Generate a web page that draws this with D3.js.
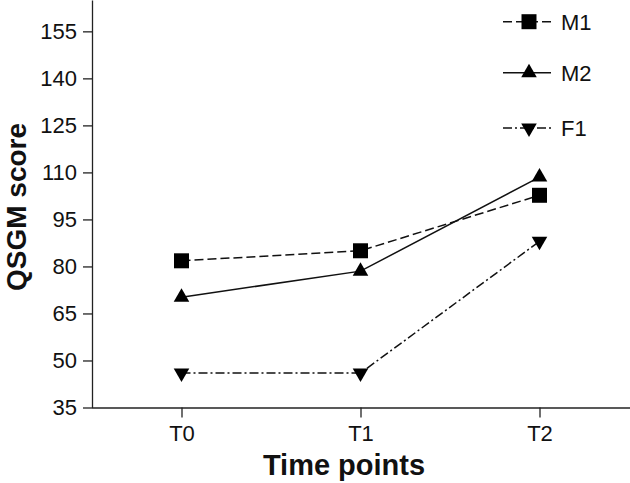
<!DOCTYPE html>
<html><head><meta charset="utf-8">
<script src="https://cdn.jsdelivr.net/npm/d3@7"></script>
<style>
html,body{margin:0;padding:0;background:#fff;}
svg{display:block;font-family:"Liberation Sans",Arial,Helvetica,sans-serif;}
</style></head>
<body>
<svg id="chart" width="630" height="483"></svg>
<script>
const timePoints = ["T0", "T1", "T2"];
const seriesNames = ["M1", "M2", "F1"];
const m1Values = [81.8, 85.0, 102.7];
const m2Values = [70.2, 78.5, 108.5];
const f1Values = [46.0, 46.0, 88.0];
const yTicks = [35, 50, 65, 80, 95, 110, 125, 140, 155];

const series = [
  {name: "M1", values: m1Values, dash: "9,4", symbol: "square"},
  {name: "M2", values: m2Values, dash: null, symbol: "up"},
  {name: "F1", values: f1Values, dash: "9,3,2,3", symbol: "down"}
];

const svg = d3.select("#chart");
const x = d3.scaleLinear().domain([-0.5, 2.5]).range([92, 629]);
const y = d3.scaleLinear().domain([35, 165]).range([407.5, 0]);

// Y axis
const yAxis = svg.append("g").attr("transform", "translate(92,0)")
  .call(d3.axisLeft(y).tickValues(yTicks).tickSize(9).tickPadding(6).tickSizeOuter(0));
yAxis.select(".domain").attr("stroke", "#222").attr("stroke-width", 1.3);
yAxis.selectAll(".tick line").attr("stroke", "#222").attr("stroke-width", 1.3);
yAxis.selectAll("text").attr("font-size", 22).attr("fill", "#111").attr("font-family", "Liberation Sans, Arial, sans-serif");

// X axis
const xAxis = svg.append("g").attr("transform", "translate(0,407.5)")
  .call(d3.axisBottom(x).tickValues([0, 1, 2]).tickFormat(i => timePoints[i]).tickSize(10).tickPadding(8).tickSizeOuter(0));
xAxis.select(".domain").attr("stroke", "#222").attr("stroke-width", 1.3).attr("d", "M92,0.5H630");
xAxis.selectAll(".tick line").attr("stroke", "#222").attr("stroke-width", 1.3);
xAxis.selectAll("text").attr("font-size", 22).attr("fill", "#111").attr("font-family", "Liberation Sans, Arial, sans-serif");

// Titles
svg.append("text").attr("x", 344).attr("y", 475).attr("text-anchor", "middle")
  .attr("font-size", 29).attr("font-weight", "bold").attr("fill", "#111").text("Time points");
svg.append("text").attr("transform", "translate(26,207) rotate(-90)").attr("text-anchor", "middle")
  .attr("font-size", 28).attr("font-weight", "bold").attr("fill", "#111").text("QSGM score");

function symbolPath(kind) {
  if (kind === "square") return d3.symbol().type(d3.symbolSquare).size(225)();
  return d3.symbol().type(d3.symbolTriangle).size(105)();
}

const line = d3.line().x((d, i) => x(i)).y(d => y(d));

series.forEach(s => {
  svg.append("path").attr("d", line(s.values)).attr("fill", "none")
    .attr("stroke", "#111").attr("stroke-width", 1.5)
    .attr("stroke-dasharray", s.dash);
  svg.selectAll(null).data(s.values).enter().append("path")
    .attr("d", symbolPath(s.symbol))
    .attr("transform", (d, i) => `translate(${x(i)},${y(d)})` + (s.symbol === "down" ? " rotate(180)" : ""))
    .attr("fill", "#000");
});

// Legend
const legendY = [21.7, 72.7, 128];
series.forEach((s, k) => {
  const g = svg.append("g").attr("transform", `translate(0,${legendY[k]})`);
  g.append("line").attr("x1", 503).attr("x2", 551).attr("y1", 0).attr("y2", 0)
    .attr("stroke", "#111").attr("stroke-width", 1.5).attr("stroke-dasharray", s.dash);
  g.append("path").attr("d", symbolPath(s.symbol))
    .attr("transform", `translate(529,0)` + (s.symbol === "down" ? " rotate(180)" : ""))
    .attr("fill", "#000");
  g.append("text").attr("x", 561).attr("y", 8).attr("font-size", 22).attr("fill", "#111").text(seriesNames[k]);
});
</script>
</body></html>
